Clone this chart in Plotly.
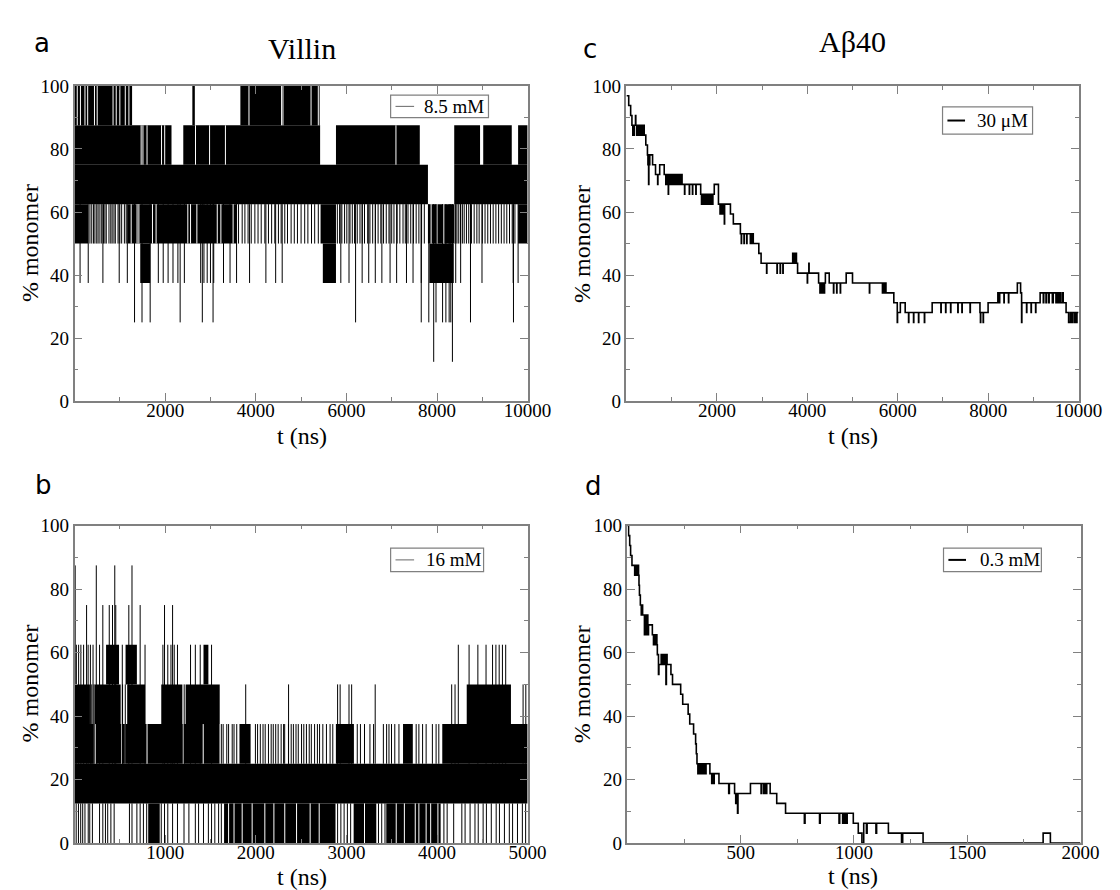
import plotly.graph_objects as go

# ---------------- DATA ----------------
# Panel a: Villin 8.5 mM (values in % monomer, time in ns)
# dense bands: start, end, low, high
A_BAND_T0 = [0, 2600, 3660, 0, 2400, 5770, 8380, 9020, 9790, 0, 8380, 0, 1170, 5430, 7800, 9790, 1450, 5480, 7830]
A_BAND_T1 = [1270, 2655, 5410, 2140, 5420, 7620, 8950, 9650, 10000, 7800, 10000, 300, 3580, 5770, 8380, 10000, 1670, 5770, 8370]
A_BAND_LO = [87.5, 87.5, 87.5, 75, 75, 75, 75, 75, 75, 62.5, 62.5, 50, 50, 50, 50, 50, 37.5, 37.5, 37.5]
A_BAND_HI = [100, 100, 100, 87.5, 87.5, 87.5, 87.5, 87.5, 87.5, 75, 75, 62.5, 62.5, 62.5, 62.5, 62.5, 50, 50, 50]
A_SPIKE_BASE = 62.5
A_DROP_50 = [340, 380, 420, 450, 490, 520, 560, 600, 640, 670, 700, 760, 800, 830, 870, 900, 960, 1000,
             1040, 1100, 1140,
             3620, 3700, 3760, 3830, 3900, 3980, 4050, 4120, 4200, 4280, 4350, 4420, 4500, 4560, 4640,
             4700, 4780, 4850, 4920, 5000, 5080, 5150, 5230, 5300, 5380,
             5800, 5850, 5900, 5960, 6010, 6080, 6130, 6180, 6240, 6300, 6350, 6400, 6470, 6520, 6580,
             6640, 6700, 6760, 6820, 6880, 6940, 7000, 7050, 7120, 7180, 7250, 7300, 7360, 7420, 7480,
             7540, 7600, 7660, 7720,
             8400, 8440, 8480, 8520, 8560, 8600, 8650, 8700, 8760, 8820, 8880, 8930, 9000, 9060, 9120,
             9180, 9240, 9300, 9360, 9420, 9480, 9540, 9600, 9660, 9720]
A_DROP_375 = [122, 302, 626, 986, 1165, 1849, 1957, 2065, 2173, 2281, 2424, 2784, 2856, 2928, 3000,
              3072, 3288, 3432, 3576, 3863, 4223, 4439, 4583, 5877, 6058, 6348, 6493, 6638, 6783, 6964,
              7109, 7326, 7471, 7652, 8413, 8522, 8739, 8993, 9681, 9790]
A_DROP_25 = [1324, 1489, 1669, 2331, 2820, 3057, 6203, 7652, 7819, 7978, 8123, 8196, 8268, 8304, 8739, 9688]
A_DROP_125 = [7927, 8340]
# short gaps inside the dense bands: time, low, high
A_GAP_T = [60, 130, 230, 290, 440, 500, 850, 920, 1000, 1120, 1200, 3850, 4570, 4600, 5220, 5380,
           1470, 1510, 1600, 1920, 1990, 2670, 2980, 3330, 7094,
           1250, 1380, 1420, 1720, 1800, 2500, 2560, 2700, 3150, 3230, 3500, 7870, 8000, 8150]
A_GAP_LO = [87.5] * 16 + [75] * 9 + [50] * 14
A_GAP_HI = [100] * 16 + [87.5] * 9 + [62.5] * 14

# Panel b: Villin 16 mM
B_BAND_T0 = [0, 0, 1820, 2884, 3625, 4058, 0, 222, 581, 957, 1226, 4328, 348, 563, 1423, 813, 1650, 3080, 3440]
B_BAND_T1 = [5000, 1600, 1943, 3083, 3733, 5000, 170, 509, 778, 1190, 1602, 4816, 491, 688, 1477, 940, 2880, 3330, 4040]
B_BAND_LO = [12.5, 25, 25, 25, 25, 25, 37.5, 37.5, 37.5, 37.5, 37.5, 37.5, 50, 50, 50, 0, 0, 0, 0]
B_BAND_HI = [25, 37.5, 37.5, 37.5, 37.5, 37.5, 50, 50, 50, 50, 50, 50, 62.5, 62.5, 62.5, 12.5, 12.5, 12.5, 12.5]
B_UP_BASE = 25
B_UP_875 = [7, 240, 444, 634]
B_UP_75 = [133, 312, 383, 419, 455, 599, 724, 993, 1082]
B_UP_625 = [20, 45, 70, 100, 150, 175, 204, 276, 527, 778, 975, 1029, 1064, 1100, 1136, 1280, 1333,
            1387, 1512, 4235, 4354, 4451, 4541, 4613, 4650, 4686, 4722, 4758]
B_UP_50 = [190, 215, 530, 560, 1210, 1889, 2362, 2903, 2931, 3029, 3058, 3318, 4162, 4199, 4950, 4980]
B_UP_375 = [1620, 1640, 1680, 1700, 1740, 1760, 1790, 1996, 2020, 2050, 2080, 2104, 2140, 2170, 2193,
            2220, 2247, 2280, 2307, 2319, 2361, 2391, 2415, 2444, 2469, 2505, 2530, 2559, 2590, 2613,
            2649, 2680, 2704, 2740, 2780, 2820, 2850, 3120, 3155, 3200, 3260, 3300, 3408, 3444, 3470,
            3498, 3534, 3580, 3770, 3800, 3841, 3880, 3949, 3990, 4020]
B_DOWN_BASE = 12.5
B_DOWN_0 = [18, 43, 68, 90, 115, 151, 168, 197, 276, 312, 341, 366, 401, 437, 606, 634, 688, 724, 760,
            796, 957, 993, 1029, 1082, 1136, 1208, 1262, 1333, 1369, 1423, 1477, 1512, 1548, 1590, 1620,
            2903, 2939, 2975, 3011, 3047, 3354, 3390, 3426, 4076, 4112, 4184, 4274, 4310, 4365,
            4419, 4455, 4509, 4545, 4599, 4653, 4689, 4744, 4798, 4834, 4888, 4942, 4978]
B_GAP_T = [1700, 1760, 1850, 1960, 2100, 2200, 2320, 2450, 2600, 2700, 3200, 3550, 3640, 3760, 3800,
           3880, 3930, 4010, 215, 230, 520, 560, 800, 1200, 1420]
B_GAP_LO = [0] * 18 + [25] * 7
B_GAP_HI = [12.5] * 18 + [37.5] * 7

# Panel c: Abeta40 30 uM (step trace: time, value)
C_T = [0, 50, 93, 121, 140, 146, 165, 172, 200, 207, 225, 232, 250, 258, 280, 288, 310, 318, 340, 348,
       365, 372, 393, 428, 464, 475, 481, 490, 496, 510, 516, 578, 643, 690, 696, 735, 835, 870, 880,
       900, 910, 925, 931, 960, 975, 1000, 1015, 1040, 1055, 1080, 1095, 1130, 1145, 1180, 1195, 1230,
       1285, 1291, 1390, 1396, 1460, 1466, 1535, 1541, 1642, 1660, 1670, 1700, 1712, 1740, 1755, 1780,
       1792, 1820, 1835, 1860, 1875, 1900, 1912, 1942, 2035, 2070, 2080, 2100, 2112, 2125, 2135, 2165,
       2171, 2300, 2364, 2520, 2540, 2546, 2600, 2606, 2660, 2666, 2740, 2752, 2775, 2790, 2805, 2928,
       2978, 3100, 3106, 3330, 3336, 3400, 3406, 3460, 3466, 3677, 3700, 3708, 3730, 3738, 3760, 3785,
       4000, 4006, 4034, 4040, 4250, 4280, 4288, 4310, 4320, 4340, 4352, 4375, 4382, 4400, 4485, 4580,
       4586, 4650, 4656, 4730, 4736, 4860, 5000, 5374, 5380, 5662, 5675, 5700, 5712, 5740, 5914, 5990,
       5996, 6058, 6165, 6240, 6246, 6350, 6356, 6460, 6466, 6590, 6596, 6762, 6955, 6961, 7060, 7066,
       7170, 7176, 7330, 7336, 7420, 7426, 7600, 7606, 7819, 7830, 7836, 7890, 7896, 7999, 8215, 8250,
       8256, 8350, 8356, 8450, 8456, 8646, 8718, 8740, 8746, 8850, 8856, 8950, 8956, 9050, 9056, 9150,
       9220, 9230, 9280, 9292, 9340, 9350, 9420, 9440, 9500, 9510, 9545, 9580, 9600, 9640, 9660, 9724,
       9780, 9818, 9850, 9860, 9900, 9915, 9950, 9965, 10000]
C_Y = [96.875, 93.75, 90.625, 87.5, 84.375, 87.5, 84.375, 87.5, 90.625, 87.5, 84.375, 87.5, 84.375, 87.5,
       84.375, 87.5, 84.375, 87.5, 84.375, 87.5, 84.375, 87.5, 84.375, 81.25, 78.125, 75, 78.125, 68.75,
       78.125, 75, 78.125, 75, 71.875, 68.75, 71.875, 75, 71.875, 68.75, 71.875, 68.75, 71.875, 65.625,
       71.875, 68.75, 71.875, 68.75, 71.875, 68.75, 71.875, 68.75, 71.875, 68.75, 71.875, 68.75, 71.875,
       68.75, 65.625, 68.75, 65.625, 68.75, 65.625, 68.75, 65.625, 68.75, 65.625, 62.5, 65.625, 62.5,
       65.625, 62.5, 65.625, 62.5, 65.625, 62.5, 65.625, 62.5, 65.625, 62.5, 65.625, 68.75, 62.5, 59.375,
       62.5, 59.375, 62.5, 59.375, 62.5, 56.25, 62.5, 59.375, 56.25, 53.125, 50, 53.125, 50, 53.125, 50,
       53.125, 50, 53.125, 50, 53.125, 50, 46.875, 43.75, 40.625, 43.75, 40.625, 43.75, 40.625, 43.75,
       40.625, 43.75, 46.875, 43.75, 46.875, 43.75, 46.875, 43.75, 40.625, 37.5, 40.625, 43.75, 40.625,
       37.5, 34.375, 37.5, 34.375, 37.5, 34.375, 37.5, 34.375, 37.5, 40.625, 37.5, 34.375, 37.5, 34.375,
       37.5, 34.375, 37.5, 40.625, 37.5, 34.375, 37.5, 34.375, 37.5, 34.375, 37.5, 34.375, 31.25, 25,
       28.125, 31.25, 28.125, 25, 28.125, 25, 28.125, 25, 28.125, 25, 28.125, 31.25, 28.125, 31.25,
       28.125, 31.25, 28.125, 31.25, 28.125, 31.25, 28.125, 31.25, 28.125, 31.25, 28.125, 25, 28.125, 25,
       28.125, 31.25, 34.375, 31.25, 34.375, 31.25, 34.375, 31.25, 34.375, 37.5, 34.375, 25, 31.25,
       28.125, 31.25, 28.125, 31.25, 28.125, 31.25, 34.375, 31.25, 34.375, 31.25, 34.375, 31.25, 34.375,
       31.25, 34.375, 31.25, 34.375, 31.25, 34.375, 31.25, 34.375, 31.25, 28.125, 25, 28.125, 25, 28.125,
       25, 28.125, 25, 28.125, 28.125]

# Panel d: Abeta40 0.3 mM
D_T = [0, 5, 10, 14, 20, 32, 36, 40, 44, 49, 51, 53, 57, 61, 63, 67, 75, 78, 82, 86, 90, 93, 110, 115,
       118, 122, 126, 130, 132, 137, 139, 149, 155, 158, 163, 166, 170, 172, 175, 192, 199, 235, 244,
       268, 275, 292, 301, 304, 307, 311, 315, 318, 322, 326, 330, 335, 340, 344, 347, 364, 372, 375,
       380, 383, 404, 447, 450, 473, 478, 481, 486, 488, 543, 590, 593, 602, 605, 612, 615, 630, 659,
       698, 781, 784, 848, 851, 934, 937, 950, 953, 958, 962, 966, 970, 997, 1019, 1035, 1043, 1055,
       1058, 1097, 1100, 1152, 1210, 1215, 1305, 1835, 1867, 2000]
D_Y = [100, 96.875, 93.75, 90.625, 87.5, 84.375, 87.5, 84.375, 87.5, 84.375, 81.25, 78.125, 75, 71.875,
       75, 71.875, 65.625, 71.875, 65.625, 71.875, 65.625, 68.75, 65.625, 62.5, 65.625, 62.5, 65.625,
       62.5, 59.375, 53.125, 56.25, 59.375, 56.25, 59.375, 56.25, 59.375, 50, 59.375, 56.25, 53.125, 50,
       46.875, 43.75, 40.625, 37.5, 34.375, 31.25, 28.125, 25, 21.875, 25, 21.875, 25, 21.875, 25, 21.875,
       25, 21.875, 25, 21.875, 18.75, 21.875, 18.75, 21.875, 18.75, 15.625, 18.75, 15.625, 12.5, 15.625,
       9.375, 15.625, 18.75, 15.625, 18.75, 15.625, 18.75, 15.625, 18.75, 15.625, 12.5, 9.375, 6.25,
       9.375, 6.25, 9.375, 6.25, 9.375, 6.25, 9.375, 6.25, 9.375, 6.25, 9.375, 6.25, 3.125, 0, 6.25,
       3.125, 6.25, 3.125, 6.25, 3.125, 0, 3.125, 0, 3.125, 0, 0]

PANEL_LABELS = ["a", "b", "c", "d"]
TITLES = ["Villin", "Aβ40"]
LEGENDS = ["8.5 mM", "16 mM", "30 μM", "0.3 mM"]
Y_TITLE = "% monomer"
X_TITLE = "t (ns)"

# ---------------- FIGURE ----------------
W, H = 1120, 890
FRAME = "#808080"
SERIF = "Liberation Serif, Times New Roman, serif"


def px(x):
    return x / W


def py(y):
    return 1 - y / H


def band_trace(t0, t1, lo, hi, xa, ya):
    return go.Bar(x=[(a + b) / 2 for a, b in zip(t0, t1)], width=[b - a for a, b in zip(t0, t1)],
                  base=lo, y=[h - l for l, h in zip(lo, hi)],
                  marker=dict(color="black", line=dict(width=0)),
                  xaxis=xa, yaxis=ya, hoverinfo="skip", showlegend=False)


def seg_trace(ts, y0s, y1s, xa, ya, color, width):
    xs, ys = [], []
    for t, a, b in zip(ts, y0s, y1s):
        xs += [t, t, None]
        ys += [a, b, None]
    return go.Scatter(x=xs, y=ys, mode="lines", line=dict(color=color, width=width),
                      xaxis=xa, yaxis=ya, hoverinfo="skip", showlegend=False)


fig = go.Figure()

# panel a
fig.add_trace(band_trace(A_BAND_T0, A_BAND_T1, A_BAND_LO, A_BAND_HI, "x", "y"))
fig.add_trace(seg_trace(A_GAP_T, A_GAP_LO, A_GAP_HI, "x", "y", "white", 1))
a_t = A_DROP_50 + A_DROP_375 + A_DROP_25 + A_DROP_125
a_tip = [50] * len(A_DROP_50) + [37.5] * len(A_DROP_375) + [25] * len(A_DROP_25) + [12.5] * len(A_DROP_125)
fig.add_trace(seg_trace(a_t, [A_SPIKE_BASE] * len(a_t), a_tip, "x", "y", "black", 1))

# panel b
fig.add_trace(band_trace(B_BAND_T0, B_BAND_T1, B_BAND_LO, B_BAND_HI, "x3", "y3"))
fig.add_trace(seg_trace(B_GAP_T, B_GAP_LO, B_GAP_HI, "x3", "y3", "white", 1))
b_up_t = B_UP_875 + B_UP_75 + B_UP_625 + B_UP_50 + B_UP_375
b_up_tip = ([87.5] * len(B_UP_875) + [75] * len(B_UP_75) + [62.5] * len(B_UP_625)
            + [50] * len(B_UP_50) + [37.5] * len(B_UP_375))
fig.add_trace(seg_trace(b_up_t, [B_UP_BASE] * len(b_up_t), b_up_tip, "x3", "y3", "black", 1))
fig.add_trace(seg_trace(B_DOWN_0, [B_DOWN_BASE] * len(B_DOWN_0), [0] * len(B_DOWN_0), "x3", "y3", "black", 1))

# panels c, d
fig.add_trace(go.Scatter(x=C_T, y=C_Y, mode="lines", line=dict(color="black", width=1.6, shape="hv"),
                         xaxis="x2", yaxis="y2", hoverinfo="skip", showlegend=False))
fig.add_trace(go.Scatter(x=D_T, y=D_Y, mode="lines", line=dict(color="black", width=1.6, shape="hv"),
                         xaxis="x4", yaxis="y4", hoverinfo="skip", showlegend=False))


def xax(dom, anchor, rng, tickvals, minor):
    return dict(domain=dom, anchor=anchor, range=rng, tickmode="array", tickvals=tickvals,
                ticktext=[str(v) for v in tickvals],
                showline=True, mirror="ticks", linecolor=FRAME, linewidth=1.5,
                ticks="inside", ticklen=8, tickwidth=1.2, tickcolor=FRAME,
                minor=dict(ticks="inside", dtick=minor, tick0=0, ticklen=4, tickwidth=1.2, tickcolor=FRAME),
                showgrid=False, zeroline=False, ticklabelstandoff=-9,
                tickfont=dict(family=SERIF, size=19, color="black"))


def yax(dom, anchor):
    return dict(domain=dom, anchor=anchor, range=[0, 100], tickmode="linear", tick0=0, dtick=20,
                showline=True, mirror="ticks", linecolor=FRAME, linewidth=1.5,
                ticks="inside", ticklen=8, tickwidth=1.2, tickcolor=FRAME,
                minor=dict(ticks="inside", dtick=10, tick0=0, ticklen=4, tickwidth=1.2, tickcolor=FRAME),
                showgrid=False, zeroline=False, ticklabelstandoff=0,
                tickfont=dict(family=SERIF, size=19, color="black"))


dom_top = [py(392.5), py(69.5)]
dom_bot = [py(845), py(520)]

annotations = []
shapes = []


def text(x, y, s, size, family=SERIF, angle=0, xanchor="center"):
    annotations.append(dict(x=px(x), y=py(y), xref="paper", yref="paper", text=s, showarrow=False,
                            textangle=angle, xanchor=xanchor, yanchor="middle",
                            font=dict(family=family, size=size, color="black")))


# panel letters and titles
for lab, (x, y) in zip(PANEL_LABELS, [(35, 26), (36, 478), (595, 32), (598, 479)]):
    text(x, y, lab, 26, family="DejaVu Sans")
text(300, 31, TITLES[0], 30)
text(863, 24, TITLES[1], 30)

# axis titles
for x, y in [(22, 231), (22, 682), (586, 231), (586, 682)]:
    text(x, y, Y_TITLE, 24, angle=-90)
for x, y in [(300, 428), (300, 880), (863, 428), (864, 879)]:
    text(x, y, X_TITLE, 24)

# legend boxes
legend_boxes = [
    ((391, 79, 491, 102), (396, 415, 90.5), 423, "#666666", 1),
    ((391, 543, 486, 567), (396, 415, 555), 425, "#666666", 1),
    ((955, 91, 1047, 119), (960, 978, 105), 988, "black", 2),
    ((956, 543, 1056, 567), (961, 979, 555), 991, "black", 2),
]
for (box, ln, tx, lc, lw), lbl in zip(legend_boxes, LEGENDS):
    x0, y0, x1, y1 = box
    shapes.append(dict(type="rect", xref="paper", yref="paper", x0=px(x0), x1=px(x1), y0=py(y1), y1=py(y0),
                       line=dict(color=FRAME, width=1.2), fillcolor="white", layer="above"))
    shapes.append(dict(type="line", xref="paper", yref="paper", x0=px(ln[0]), x1=px(ln[1]),
                       y0=py(ln[2]), y1=py(ln[2]), line=dict(color=lc, width=lw), layer="above"))
    text(tx, ln[2], lbl, 19, xanchor="left")

fig.update_layout(
    width=W, height=H, margin=dict(l=0, r=0, t=0, b=0),
    paper_bgcolor="white", plot_bgcolor="white", showlegend=False, barmode="overlay",
    font=dict(family=SERIF),
    xaxis=xax([px(68), px(531)], "y", [0, 10000], [2000, 4000, 6000, 8000, 10000], 1000),
    yaxis=yax(dom_top, "x"),
    xaxis2=xax([px(632), px(1094)], "y2", [0, 10000], [2000, 4000, 6000, 8000, 10000], 1000),
    yaxis2=yax(dom_top, "x2"),
    xaxis3=xax([px(68), px(531)], "y3", [0, 5000], [1000, 2000, 3000, 4000, 5000], 500),
    yaxis3=yax(dom_bot, "x3"),
    xaxis4=xax([px(633), px(1096)], "y4", [0, 2000], [500, 1000, 1500, 2000], 250),
    yaxis4=yax(dom_bot, "x4"),
    annotations=annotations, shapes=shapes,
)

fig.write_html("out.html")
